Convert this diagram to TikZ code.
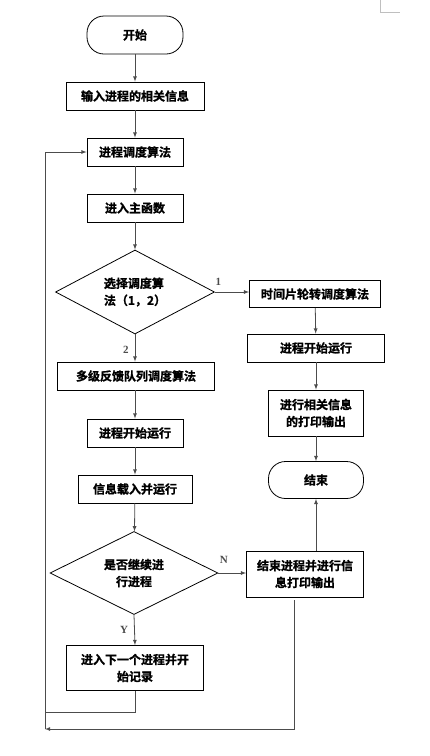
\documentclass[tikz,border=0pt]{standalone}
\usepackage{fontspec}
\usetikzlibrary{shapes.geometric}
\newfontfamily\cjk{Noto Sans CJK SC}[BoldFont={Noto Sans CJK SC Bold}, BoldFeatures={FakeBold=1.2}]
\newfontfamily\lblfont{Liberation Serif}
\tikzset{
  stepbox/.style  = {shape=rectangle, %rounded corners,
                     draw, align=center, line width=0.8pt,
                     inner sep=0pt, font=\cjk\bfseries\fontsize{12}{17}\selectfont},
  term/.style     = {stepbox, rounded corners=17pt},
  decide/.style   = {stepbox, shape=diamond, aspect=1.9, align=left},
  flow/.style     = {draw, -latex, line width=0.8pt, color=black!70},
  branch/.style   = {font=\lblfont\bfseries\fontsize{11}{12}\selectfont, inner sep=0pt}
}

\begin{document}
\begin{tikzpicture}
  [
  x = 1pt, y = -1pt
  ]

  \useasboundingbox (0,0) rectangle (430,756);

  % left column
  \node[term, minimum width=96pt, minimum height=38pt] (start) at (135,35) {开始};
  \node[stepbox, minimum width=138pt, minimum height=28pt] (input) at (135,96) {输入进程的相关信息};
  \node[stepbox, minimum width=96pt, minimum height=28pt] (sched) at (135,152) {进程调度算法};
  \node[stepbox, minimum width=96pt, minimum height=28pt] (mainfn) at (135,208) {进入主函数};
  \node[decide, minimum width=159pt, minimum height=84pt] (choose) at (135,292) {选择调度算\\法（1，2）};
  \node[stepbox, minimum width=157pt, minimum height=28pt] (mlfq) at (136,376) {多级反馈队列调度算法};
  \node[stepbox, minimum width=96pt, minimum height=28pt] (runL) at (135,433) {进程开始运行};
  \node[stepbox, minimum width=114pt, minimum height=28pt] (load) at (135,489) {信息载入并运行};
  \node[decide, align=center, minimum width=168pt, minimum height=83pt] (cont) at (134,573) {是否继续进\\行进程};
  \node[stepbox, minimum width=137pt, minimum height=45pt] (next) at (135,668) {进入下一个进程并开\\始记录};

  % right column
  \node[stepbox, minimum width=131pt, minimum height=27pt] (rr) at (315,294) {时间片轮转调度算法};
  \node[stepbox, minimum width=137pt, minimum height=28pt] (runR) at (316,348) {进程开始运行};
  \node[stepbox, minimum width=95pt, minimum height=46pt] (printR) at (316,413) {进行相关信息\\的打印输出};
  \node[term, minimum width=95pt, minimum height=37pt] (endN) at (316,480) {结束};
  \node[stepbox, minimum width=117pt, minimum height=46pt] (finish) at (305,574) {结束进程并进行信\\息打印输出};

  % loop corners
  \coordinate (loopB) at (45,729);
  \coordinate (joinA) at (45,712);

  \draw[flow] (start) -- (input);
  \draw[flow] (input) -- (sched);
  \draw[flow] (sched) -- (mainfn);
  \draw[flow] (mainfn) -- (choose);
  \draw[flow] (choose.east) -- (choose.east -| rr.west)
    node[branch, pos=0.1, above=6pt] {1};
  \draw[flow] (choose.south) -- (mlfq.north -| choose.south)
    node[branch, pos=0.55, left=6pt] {2};
  \draw[flow] (rr) -- (runR);
  \draw[flow] (runR) -- (printR);
  \draw[flow] (printR) -- (endN);
  \draw[flow] (mlfq.south -| runL.north) -- (runL);
  \draw[flow] (runL) -- (load);
  \draw[flow] (load) -- (cont);
  \draw[flow] (cont.east) -- (cont.east -| finish.west)
    node[branch, pos=0.2, above=9pt] {N};
  \draw[flow] (cont.south) -- (next.north)
    node[branch, pos=0.5, left=6pt] {Y};
  \draw[flow] (endN.south |- finish.north) -- (endN.south);
  \draw[flow, -] (next.south) |- (joinA);
  \draw[flow] ([xshift=-11pt, yshift=-3pt]finish.south) |- (loopB);
  \draw[flow] (loopB) |- (sched.west);

  % page corner mark
  \draw[black!25, line width=0.8pt] (380,0) |- (400,12);
\end{tikzpicture}
\end{document}
